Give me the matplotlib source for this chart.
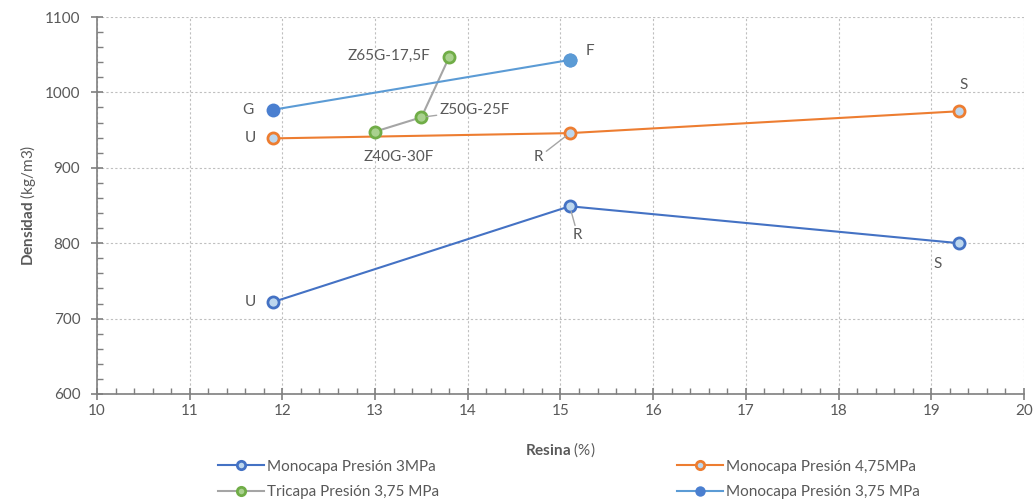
import matplotlib
matplotlib.use('Agg')
import matplotlib.pyplot as plt
from matplotlib.ticker import MultipleLocator

plt.rcParams['font.family'] = ['Lato', 'DejaVu Sans']
plt.rcParams['mathtext.fontset'] = 'custom'
plt.rcParams['mathtext.rm'] = 'Lato'
plt.rcParams['mathtext.bf'] = 'Lato:bold'

# data
x_m3 = [11.9, 15.1, 19.3]
y_m3 = [722, 849, 800]
lab_m3 = ['U', 'R', 'S']

x_m475 = [11.9, 15.1, 19.3]
y_m475 = [939, 946, 975]
lab_m475 = ['U', 'R', 'S']

x_tri = [13.0, 13.5, 13.8]
y_tri = [948, 967, 1047]
lab_tri = ['Z40G-30F', 'Z50G-25F', 'Z65G-17,5F']

x_m375 = [11.9, 15.1]
y_m375 = [977, 1043]
lab_m375 = ['G', 'F']

txt = '#595959'
grey = '#A5A5A5'

fig = plt.figure(figsize=(10.36, 5.03), dpi=100)
ax = fig.add_axes([0.0936, 0.2167, 0.8948, 0.7495])

h1, = ax.plot(x_m3, y_m3, color='#4472C4', lw=1.5, marker='o', ms=8,
              mfc='#BDD7EE', mec='#4472C4', mew=2, label='Monocapa Presión 3MPa', zorder=3)
h2, = ax.plot(x_m475, y_m475, color='#ED7D31', lw=1.5, marker='o', ms=8,
              mfc='#BDD7EE', mec='#ED7D31', mew=2, label='Monocapa Presión 4,75MPa', zorder=3)
h3, = ax.plot(x_tri, y_tri, color=grey, lw=1.5, marker='o', ms=8,
              mfc='#A9D18E', mec='#70AD47', mew=2, label='Tricapa Presión 3,75 MPa', zorder=3)
h4, = ax.plot(x_m375, y_m375, color='#5B9BD5', lw=1.5, marker='o', ms=10,
              mfc='#4A7FD0', mew=0, label='Monocapa Presión 3,75 MPa', zorder=3)
# F point lighter blue like the original
ax.plot(x_m375[1:], y_m375[1:], ls='none', marker='o', ms=10, mfc='#5B9BD5', mew=0, zorder=4)

# data labels (offsets in pixels)
def lbl(x, y, s, dx, dy, ha='center', leader=False):
    kw = {}
    if leader:
        kw['arrowprops'] = dict(arrowstyle='-', color=grey, lw=1, shrinkA=0, shrinkB=4)
    ax.annotate(s, (x, y), xytext=(dx, dy), textcoords='offset pixels',
                ha=ha, va='center', fontsize=11, color=txt, **kw)

offs_m3 = [(-23, 0, 'center', False), (8, -29, 'center', True), (-21, -21, 'center', False)]
for x, y, s, o in zip(x_m3, y_m3, lab_m3, offs_m3):
    lbl(x, y, s, *o)
offs_m475 = [(-23, 0, 'center', False), (-31, -24, 'center', True), (5, 26, 'center', False)]
for x, y, s, o in zip(x_m475, y_m475, lab_m475, offs_m475):
    lbl(x, y, s, *o)
offs_tri = [(24, -25, 'center', False), (18, 7, 'left', True), (-19, 1, 'right', False)]
for x, y, s, o in zip(x_tri, y_tri, lab_tri, offs_tri):
    lbl(x, y, s, *o)
offs_m375 = [(-25, 0, 'center', False), (20, 9, 'center', False)]
for x, y, s, o in zip(x_m375, y_m375, lab_m375, offs_m375):
    lbl(x, y, s, *o)

ax.set_xlim(10, 20)
ax.set_ylim(600, 1100)
ax.xaxis.set_major_locator(MultipleLocator(1))
ax.xaxis.set_minor_locator(MultipleLocator(0.2))
ax.yaxis.set_major_locator(MultipleLocator(100))
ax.yaxis.set_minor_locator(MultipleLocator(20))
ax.grid(True, which='major', ls=(0, (2, 2)), color='#BFBFBF', lw=0.8)
ax.set_axisbelow(True)

for side in ['top', 'right']:
    ax.spines[side].set_visible(False)
for side in ['left', 'bottom']:
    ax.spines[side].set_color('#7F7F7F')
    ax.spines[side].set_linewidth(1.2)
ax.tick_params(which='major', direction='inout', length=8, width=1.2, color='#7F7F7F',
               labelcolor=txt, labelsize=11)
ax.tick_params(which='minor', direction='in', length=4, width=1, color='#7F7F7F')
ax.tick_params(axis='y', which='major', pad=8)

ax.set_xlabel(r'$\bf{Resina}$ (%)', fontsize=11, color=txt, labelpad=16)
ax.set_ylabel(r'$\bf{Densidad}$ (kg/m3)', fontsize=11, color=txt, labelpad=5)

leg = fig.legend([h1, h3, h2, h4], [h.get_label() for h in [h1, h3, h2, h4]],
                 ncol=2, loc='upper left', bbox_to_anchor=(0.2105, 0.086), frameon=False,
                 fontsize=11, labelcolor=txt, handlelength=3, handletextpad=0.2,
                 markerscale=0.75, columnspacing=15.6, labelspacing=0.75,
                 borderaxespad=0, borderpad=0)

fig.savefig('out.png', dpi=100)
